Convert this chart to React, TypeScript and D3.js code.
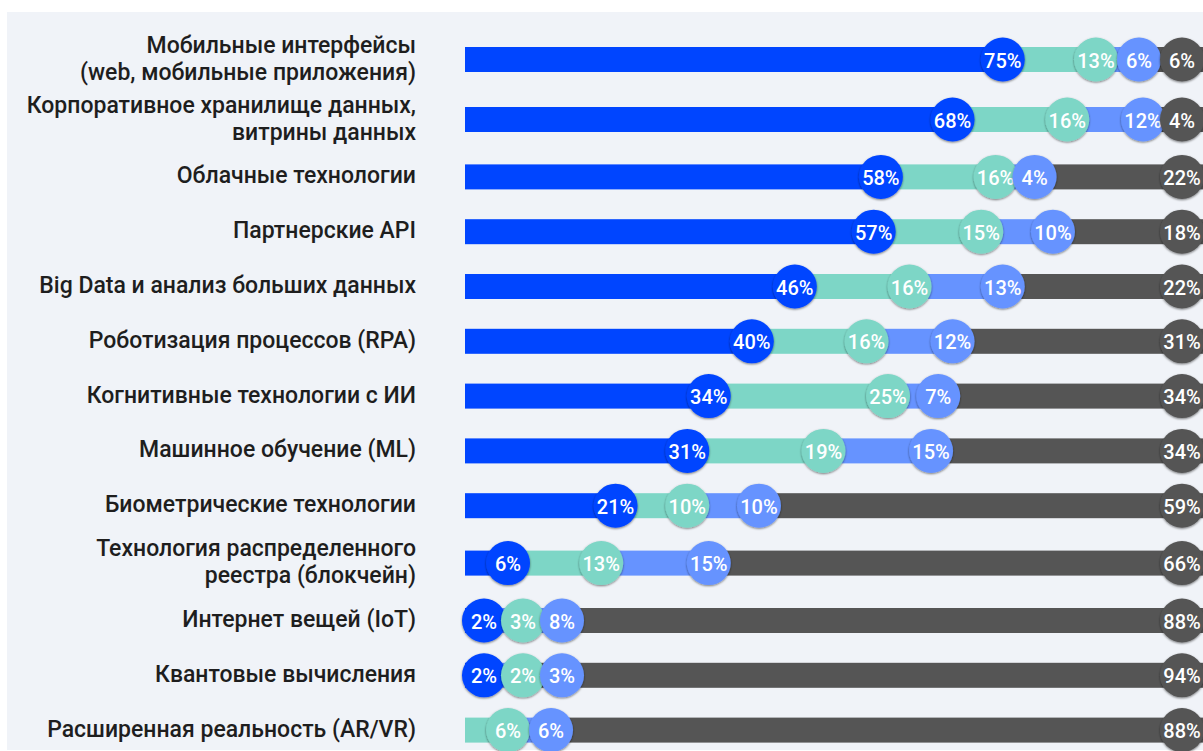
import React from 'react';
import * as d3 from 'd3';

// технологии (строки подписи разделены \n)
const categories = [
  'Мобильные интерфейсы\n(web, мобильные приложения)',
  'Корпоративное хранилище данных,\nвитрины данных',
  'Облачные технологии',
  'Партнерские API',
  'Big Data и анализ больших данных',
  'Роботизация процессов (RPA)',
  'Когнитивные технологии с ИИ',
  'Машинное обучение (ML)',
  'Биометрические технологии',
  'Технология распределенного\nреестра (блокчейн)',
  'Интернет вещей (IoT)',
  'Квантовые вычисления',
  'Расширенная реальность (AR/VR)',
];

const blueValues = [75, 68, 58, 57, 46, 40, 34, 31, 21, 6, 2, 2, 0];
const tealValues = [13, 16, 16, 15, 16, 16, 25, 19, 10, 13, 3, 2, 6];
const lightBlueValues = [6, 12, 4, 10, 13, 12, 7, 15, 10, 15, 8, 3, 6];
const grayValues = [6, 4, 22, 18, 22, 31, 34, 34, 59, 66, 88, 94, 88];

const seriesColors = ['#0045ff', '#7dd6c6', '#6693ff', '#555555'];

const W = 1203;
const H = 751;
const R = 22;
const GAP = 39;

export default function App() {
  const x = d3.scaleLinear().domain([0, 100]).range([465, 1182]);

  // y-центры строк: двухстрочные подписи занимают больше места
  const heights = categories.map((c) => (c.includes('\n') ? 60 : 54.8));
  let acc = 29.5;
  const yCenters = heights.map((h) => {
    const c = acc + h / 2;
    acc += h;
    return c;
  });

  const rows = categories.map((cat, i) => {
    const vals = [blueValues[i], tealValues[i], lightBlueValues[i], grayValues[i]];
    const segs: { x0: number; x1: number; v: number; color: string }[] = [];
    let cum = 0;
    vals.forEach((v, k) => {
      const start = cum;
      cum += v;
      const end = k === 3 ? 100 : Math.min(cum, 100);
      segs.push({ x0: x(start), x1: k === 3 ? W + 10 : x(end), v, color: seriesColors[k] });
    });
    // позиции кружков, раздвинутые чтобы не наезжали
    const circles: { cx: number; v: number; color: string }[] = [];
    let prev = -Infinity;
    cum = 0;
    vals.forEach((v, k) => {
      cum += v;
      if (v === 0) return;
      let cx = k === 3 ? x(100) : x(Math.min(cum, 100));
      cx = Math.max(cx, x(0) + R - 3, prev + GAP);
      prev = cx;
      circles.push({ cx, v, color: seriesColors[k] });
    });
    // последний кружок всегда в конце полосы, остальные сдвигаем назад
    circles[circles.length - 1].cx = x(100);
    for (let k = circles.length - 2; k >= 0; k--) {
      circles[k].cx = Math.min(circles[k].cx, circles[k + 1].cx - GAP);
    }
    return { cat, y: yCenters[i], segs, circles };
  });

  return (
    <svg
      width={W}
      height={H}
      style={{ position: 'absolute', left: 0, top: 0 }}
      fontFamily="Roboto, 'Noto Sans', sans-serif"
    >
      <defs>
        <filter id="sh" x="-30%" y="-30%" width="160%" height="160%">
          <feDropShadow dx="0" dy="1" stdDeviation="1.3" floodColor="#000" floodOpacity="0.5" />
        </filter>
      </defs>
      <rect x={0} y={0} width={W} height={H} fill="#ffffff" />
      <rect x={7} y={12} width={W - 7} height={H - 13} fill="#f0f3f8" />
      {rows.map((r, i) => {
        const lines = r.cat.split('\n');
        return (
          <g key={i}>
            {lines.map((ln, j) => (
              <text
                key={j}
                x={416}
                y={r.y - 1 + (j - (lines.length - 1) / 2) * 27}
                textAnchor="end"
                dominantBaseline="central"
                fontSize={23}
                fontWeight={500}
                fill="#1e1e1e"
              >
                {ln}
              </text>
            ))}
            {r.segs.map((s, k) =>
              s.v > 0 ? (
                <rect key={k} x={s.x0} y={r.y - 12.5} width={Math.max(0, s.x1 - s.x0)} height={25} fill={s.color} />
              ) : null
            )}
            {r.circles.map((c, k) => (
              <g key={'c' + k}>
                <circle cx={c.cx} cy={r.y} r={R} fill={c.color} filter="url(#sh)" />
                <text
                  x={c.cx}
                  y={r.y + 1}
                  textAnchor="middle"
                  dominantBaseline="central"
                  fontSize={20}
                  fontWeight={500}
                  fill="#ffffff"
                >
                  {c.v}%
                </text>
              </g>
            ))}
          </g>
        );
      })}
    </svg>
  );
}
